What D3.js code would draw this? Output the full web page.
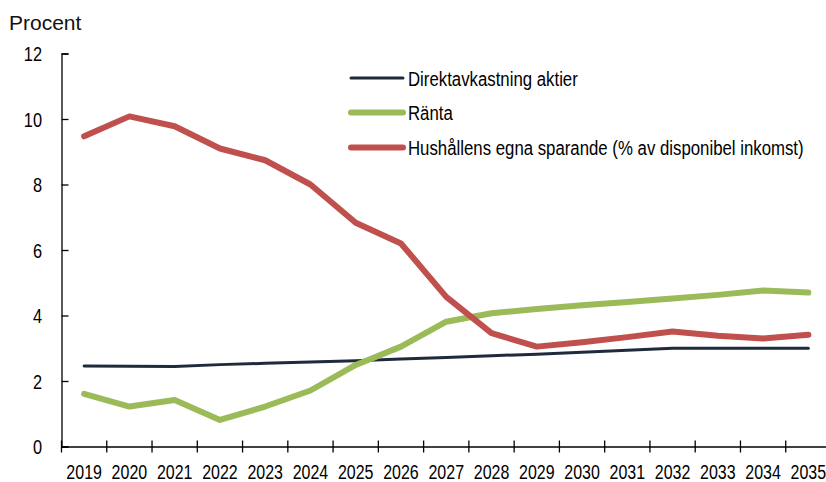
<!DOCTYPE html>
<html><head><meta charset="utf-8">
<script src="https://cdn.jsdelivr.net/npm/d3@7"></script>
<style>
html,body{margin:0;padding:0;background:#fff;}
svg{display:block;}
</style></head>
<body>
<svg id="chart" width="826" height="482"></svg>
<script>
const years = ["2019","2020","2021","2022","2023","2024","2025","2026","2027","2028","2029","2030","2031","2032","2033","2034","2035"];
const direktavkastning = [2.46,2.45,2.44,2.50,2.54,2.58,2.62,2.67,2.72,2.77,2.82,2.88,2.94,3.00,3.00,3.00,3.00];
const ranta = [1.61,1.22,1.42,0.81,1.22,1.71,2.49,3.05,3.81,4.07,4.20,4.31,4.41,4.52,4.63,4.76,4.70];
const sparande = [9.47,10.08,9.78,9.10,8.74,8.00,6.83,6.20,4.57,3.46,3.05,3.18,3.34,3.51,3.38,3.30,3.41];
const yTicks = [0,2,4,6,8,10,12];
const seriesNames = ["Direktavkastning aktier","Ränta","Hushållens egna sparande (% av disponibel inkomst)"];
const colors = ["#1f2b3d","#9bbb59","#c0504d"];
const widths = [3,6,6];

(function(){
const svg = d3.select("#chart");
const mLeft = 61.5, mRight = 831, mTop = 53.5, mBottom = 446.5;
const x = d3.scaleBand().domain(years).range([mLeft, mRight]).padding(0);
const y = d3.scaleLinear().domain([0,12]).range([mBottom, mTop]);
const font = "'Liberation Sans',Arial,sans-serif";

function cText(g, tx, ty, str, size, sx, anchor, dy){
  return g.append("text")
    .attr("transform",`translate(${tx},${ty}) scale(${sx},1)`)
    .attr("text-anchor",anchor).attr("dy",dy||0)
    .attr("font-family",font).attr("font-size",size).attr("fill","#000").text(str);
}

// Y axis
const yAxis = svg.append("g").attr("transform",`translate(${mLeft},0)`)
  .call(d3.axisRight(y).tickValues(yTicks).tickSize(7).tickFormat(""));
yAxis.select(".domain").attr("stroke","#000").attr("stroke-width",1.3);
yAxis.selectAll(".tick line").attr("stroke","#000").attr("stroke-width",1.3);
const yl = svg.append("g");
yTicks.forEach(d=>cText(yl, 42, y(d), d, 21, 0.78, "end", "0.36em"));

// X axis
const xAxis = svg.append("g").attr("transform",`translate(0,${mBottom})`)
  .call(d3.axisBottom(x).tickSize(0).tickFormat(""));
xAxis.select(".domain").attr("stroke","#000").attr("stroke-width",1.3);
const edges = years.map(d=>x(d)).concat([x(years[years.length-1])+x.bandwidth()]);
svg.append("g").selectAll("line").data(edges).join("line")
  .attr("x1",d=>d).attr("x2",d=>d).attr("y1",mBottom-6).attr("y2",mBottom+6)
  .attr("stroke","#000").attr("stroke-width",1.3);
const xl = svg.append("g");
years.forEach(d=>cText(xl, x(d)+x.bandwidth()/2, 478.5, d, 20.5, 0.78, "middle"));

// Title
svg.append("text").attr("x",9).attr("y",30).attr("font-family",font)
  .attr("font-size",21).attr("fill","#111").text("Procent");

// Lines
const seriesData = [direktavkastning, ranta, sparande];
const line = d3.line().x((d,i)=>x(years[i])+x.bandwidth()/2).y(d=>y(d));
seriesData.forEach((s,k)=>{
  svg.append("path").datum(s).attr("d",line).attr("fill","none")
    .attr("stroke",colors[k]).attr("stroke-width",widths[k])
    .attr("stroke-linejoin","round").attr("stroke-linecap","round");
});

// Legend
const legY = [78,112.5,147.5];
const leg = svg.append("g");
seriesNames.forEach((n,k)=>{
  leg.append("line").attr("x1",351).attr("x2",403).attr("y1",legY[k]).attr("y2",legY[k])
    .attr("stroke",colors[k]).attr("stroke-width",widths[k]).attr("stroke-linecap","round");
  cText(leg, 408, legY[k], n, 21, 0.8, "start", "0.36em");
});
})();
</script>
</body></html>
